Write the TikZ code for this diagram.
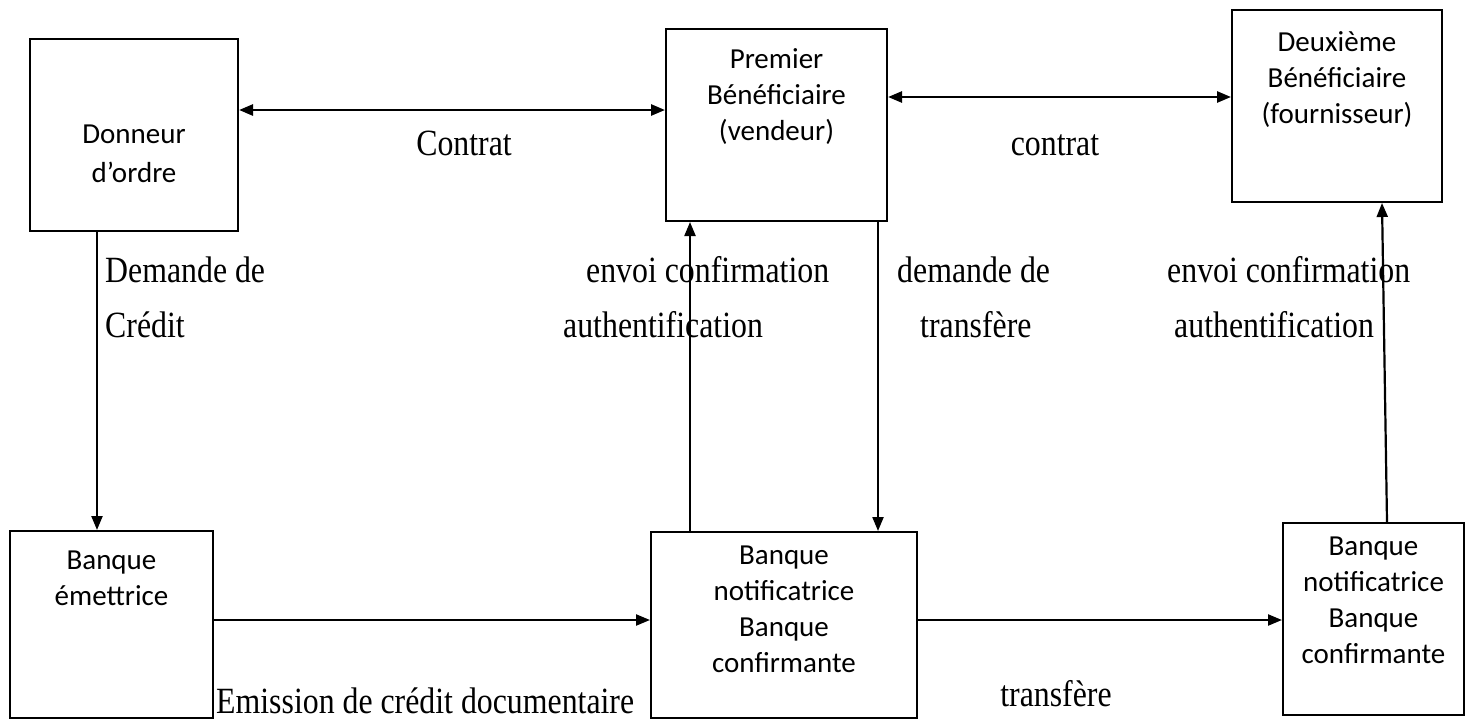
\documentclass[tikz,border=0pt]{standalone}
\usepackage{fontspec}
\setmainfont{Liberation Serif}
\newfontfamily\boxfont{Carlito}
\newfontfamily\lblfont[FakeStretch=0.86]{Liberation Serif}
\usetikzlibrary{arrows.meta}
\begin{document}
\begin{tikzpicture}
[
  x=1pt, y=-1pt,
  box/.style={draw,line width=2pt,inner sep=0pt},
  boxtxt/.style={font=\boxfont\fontsize{29}{36}\selectfont,align=center,inner sep=0pt,anchor=base},
  lbl/.style={font=\lblfont\fontsize{37}{55}\selectfont,inner sep=0pt,anchor=base west},
  flow/.style={line width=2.2pt,-{Triangle[length=14pt,width=11pt]}},
  both/.style={line width=2.6pt,{Triangle[length=14pt,width=11pt]}-{Triangle[length=14pt,width=11pt]}}
]
\useasboundingbox (0,0) rectangle (1469,720);

% top row (base = baseline of the last line)
\node[box,minimum width=208pt,minimum height=192pt] (donneur) at (134,135) {};
\node[boxtxt] (donneur-t) at (134,182) {Donneur\\[3pt]d’ordre};

\node[box,minimum width=221pt,minimum height=192pt] (premier) at (776.5,125) {};
\node[boxtxt] (premier-t) at (776.5,140) {Premier\\Bénéficiaire\\(vendeur)};

\node[box,minimum width=210pt,minimum height=192pt] (deuxieme) at (1337,106) {};
\node[boxtxt] (deuxieme-t) at (1337,123) {Deuxième\\Bénéficiaire\\(fournisseur)};

% bottom row
\node[box,minimum width=203pt,minimum height=187pt] (emettrice) at (111.5,624.5) {};
\node[boxtxt] (emettrice-t) at (111.5,605) {Banque\\émettrice};

\node[box,minimum width=266pt,minimum height=186pt] (notif1) at (784,625) {};
\node[boxtxt] (notif1-t) at (784,672) {Banque\\notificatrice\\Banque\\confirmante};

\node[box,minimum width=181pt,minimum height=192pt] (notif2) at (1373.5,619) {};
\node[boxtxt] (notif2-t) at (1373.5,663) {Banque\\notificatrice\\Banque\\confirmante};

% contrats
\draw[both] ([yshift=25pt]donneur.east) -- ([yshift=25pt]donneur.east -| premier.west);
\draw[both] ([yshift=28pt]premier.east) -- ([yshift=28pt]premier.east -| deuxieme.west);
\node[lbl,anchor=base] (contrat1) at (464,155) {Contrat};
\node[lbl,anchor=base] (contrat2) at (1055,155) {contrat};

% demandes et confirmations
\draw[flow] ([xshift=-37pt]donneur.south) -- ([xshift=-37pt]donneur.south |- emettrice.north);
\draw[flow] ([xshift=-94pt]notif1.north) -- ([xshift=-94pt]notif1.north |- premier.south);
\draw[flow] ([xshift=94pt]notif1.north |- premier.south) -- ([xshift=94pt]notif1.north);
\draw[flow] ([xshift=13.5pt]notif2.north) -- ([xshift=45pt]deuxieme.south);

\node[lbl] (demande1) at (105,282) {Demande de};
\node[lbl] (credit) at (105,337) {Crédit};
\node[lbl] (envoi1) at (586,282) {envoi confirmation};
\node[lbl] (auth1) at (563,337) {authentification};
\node[lbl] (demande2) at (897,282) {demande de};
\node[lbl] (transf1) at (920,337) {transfère};
\node[lbl] (envoi2) at (1167,282) {envoi confirmation};
\node[lbl] (auth2) at (1174,337) {authentification};

% emission et transfert
\draw[flow] ([yshift=4.5pt]emettrice.east) -- ([yshift=4.5pt]emettrice.east -| notif1.west);
\draw[flow] ([yshift=5pt]notif1.east) -- ([yshift=5pt]notif1.east -| notif2.west);
\node[lbl] (emission) at (216,713) {Emission de crédit documentaire};
\node[lbl,anchor=base] (transf2) at (1056,706) {transfère};

\end{tikzpicture}
\end{document}
